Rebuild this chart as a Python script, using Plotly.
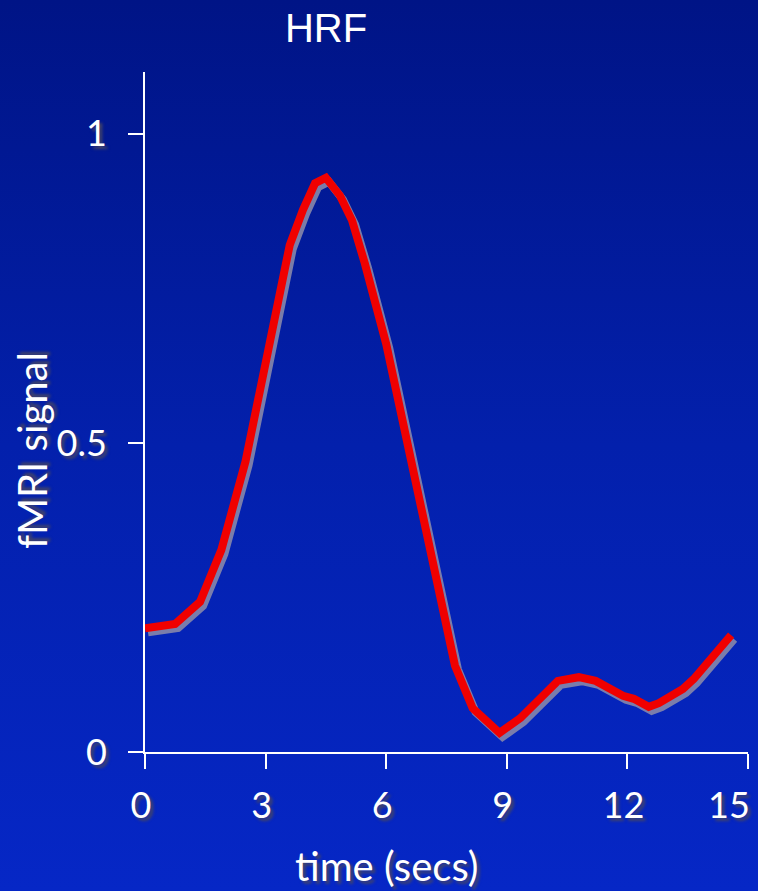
import plotly.graph_objects as go

# Data
time_s = [0.0, 0.75, 1.37, 1.9, 2.5, 3.0, 3.6, 3.93, 4.23, 4.5, 4.85, 5.15, 5.47, 6.0,
          6.47, 6.97, 7.34, 7.71, 8.15, 8.82, 9.34, 9.64, 9.97, 10.27, 10.79, 11.21,
          11.89, 12.16, 12.53, 12.78, 13.38, 13.65, 14.58]
signal = [0.200, 0.207, 0.243, 0.327, 0.470, 0.634, 0.820, 0.877, 0.920, 0.929, 0.900,
          0.860, 0.790, 0.660, 0.520, 0.375, 0.262, 0.140, 0.071, 0.031, 0.055, 0.073,
          0.097, 0.115, 0.121, 0.115, 0.091, 0.086, 0.073, 0.079, 0.102, 0.118, 0.189]
x_ticks = [0, 3, 6, 9, 12, 15]
x_tick_labels = ["0", "3", "6", "9", "12", "15"]
y_ticks = [0, 0.5, 1]
y_tick_labels = ["0", "0.5", "1"]

W, H = 758, 891
L, R, T, B = 145, 10, 72, 139
pw, ph = W - L - R, H - T - B
x_range = [0, 15]
y_range = [0, 1.1]

# shadow offset in data units (~3px right, ~4px down)
dx = 3 * (x_range[1] - x_range[0]) / pw
dy = 4 * (y_range[1] - y_range[0]) / ph

shadow = "3px 3px 3px rgba(70,70,100,0.95)"
tick_font = dict(family="Lato, 'Open Sans', sans-serif", size=36, color="white", shadow=shadow)
title_font = dict(family="Lato, 'Open Sans', sans-serif", size=40, color="white", shadow=shadow)

fig = go.Figure()
fig.add_trace(go.Scatter(x=[t + dx for t in time_s], y=[s - dy for s in signal],
                         mode="lines", line=dict(color="rgba(135,135,170,0.9)", width=8),
                         hoverinfo="skip", showlegend=False))
fig.add_trace(go.Scatter(x=time_s, y=signal, mode="lines",
                         line=dict(color="#F00000", width=8), showlegend=False))

# the last x tick label sits flush with the right edge, as in the reference
last_label = x_tick_labels[-1]
shown_labels = x_tick_labels[:-1] + [""]

fig.update_layout(
    width=W, height=H,
    margin=dict(l=L, r=R, t=T, b=B, autoexpand=False),
    paper_bgcolor="rgba(0,0,0,0)", plot_bgcolor="rgba(0,0,0,0)",
    showlegend=False,
    title=dict(text="HRF", x=326 / W, xanchor="center", xref="container",
               y=1 - 28 / H, yanchor="middle",
               font=dict(family="'Liberation Sans', Arial, sans-serif", size=40, color="white")),
    xaxis=dict(range=x_range, tickvals=x_ticks, ticktext=shown_labels,
               showgrid=False, zeroline=False, showline=True, linecolor="white", linewidth=2,
               ticks="outside", ticklen=15, tickwidth=2, tickcolor="white",
               tickfont=tick_font, ticklabelstandoff=6, ticklabelshift=-4,
               automargin=False),
    yaxis=dict(range=y_range, tickvals=y_ticks, ticktext=y_tick_labels,
               showgrid=False, zeroline=False, showline=True, linecolor="white", linewidth=2,
               ticks="outside", ticklen=15, tickwidth=2, tickcolor="white",
               tickfont=tick_font, ticklabelstandoff=14, automargin=False),
    annotations=[
        dict(text=last_label, xref="x", yref="paper", x=x_ticks[-1], y=(H - B - 804) / ph,
             xanchor="right", yanchor="middle", xshift=4, showarrow=False, font=tick_font),
        dict(text="time (secs)", xref="paper", yref="paper", x=(387 - L) / pw, y=(H - B - 866) / ph,
             xanchor="center", yanchor="middle", showarrow=False, font=title_font),
        dict(text="fMRI signal", xref="paper", yref="paper", x=(32 - L) / pw, y=(H - B - 451) / ph,
             xanchor="center", yanchor="middle", textangle=-90, showarrow=False, font=title_font),
    ],
)

post = """
document.documentElement.style.height='100%';
document.body.style.margin='0';
document.body.style.minHeight='100vh';
document.body.style.background='linear-gradient(180deg, #001486 0%, #0320AC 50%, #0627C6 100%)';
"""
fig.write_html("out.html", post_script=post, config={"displayModeBar": False})
